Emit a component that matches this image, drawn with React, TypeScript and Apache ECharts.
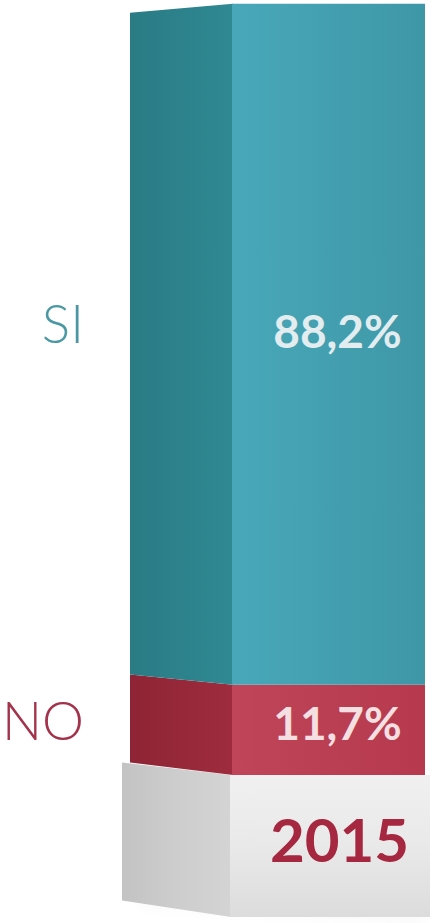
import React, { useEffect, useRef } from "react";
import * as echarts from "echarts";

const categories = ["2015"];
const seriesNames = ["SI", "NO"];
const siValues = [88.2];
const noValues = [11.7];

const W = 438;
const H = 923;

export default function App() {
  const ref = useRef<HTMLDivElement>(null);

  useEffect(() => {
    const chart = echarts.init(ref.current as HTMLDivElement, null, { renderer: "svg", width: W, height: H });
    const HORIZON = 325;
    const K = 0.028;
    const DEPTH = 102;
    const back = (y: number) => y + K * (HORIZON - y);
    const lg = (x2: number, y2: number, stops: string[]) =>
      new echarts.graphic.LinearGradient(
        0, 0, x2, y2,
        stops.map((c, i) => ({ offset: i / (stops.length - 1), color: c }))
      );

    const palettes: Record<string, any> = {
      SI: { side: ["#2a7b84", "#2f8993"], front: ["#48a8b9", "#3e97a6"], text: "#e3edf0", name: "#4a98a3" },
      NO: { side: ["#8e2435", "#9e2c3e"], front: ["#c04558", "#b6394d"], text: "#f4e0e3", name: "#a3324b" },
    };
    const labelDy: Record<string, number> = { SI: -14, NO: -7 };
    const nameDy: Record<string, number> = { SI: -8, NO: -3 };

    const makeBar = (name: string, lows: number[], values: number[]) => ({
      type: "custom",
      name,
      z: 3,
      data: categories.map((_c, i) => [i, lows[i], lows[i] + values[i], values[i]]),
      renderItem: (_params: any, api: any) => {
        const cat = api.value(0);
        const lo = api.coord([cat, api.value(1)]);
        const hi = api.coord([cat, api.value(2)]);
        const bw = api.size([1, 0])[0];
        const xL = lo[0] - bw / 2;
        const xB = xL - DEPTH;
        const p = palettes[name];
        const midY = (lo[1] + hi[1]) / 2 + labelDy[name];
        return {
          type: "group",
          children: [
            {
              type: "polygon",
              shape: { points: [[xB, back(hi[1])], [xL + 1, hi[1]], [xL + 1, lo[1]], [xB, back(lo[1])]] },
              style: { fill: lg(1, 0, p.side) },
            },
            {
              type: "rect",
              shape: { x: xL, y: hi[1], width: bw, height: lo[1] - hi[1] },
              style: { fill: lg(1, 0, p.front) },
            },
            {
              type: "text",
              x: lo[0] + 9,
              y: midY,
              style: {
                text: api.value(3).toFixed(1).replace(".", ",") + "%",
                fill: p.text,
                font: "bold 46px Lato",
                align: "center",
                verticalAlign: "middle",
              },
            },
            {
              type: "text",
              x: xB - 46,
              y: midY + nameDy[name],
              style: {
                text: name,
                fill: p.name,
                font: "300 53px Lato",
                align: "right",
                verticalAlign: "middle",
              },
            },
          ],
        };
      },
    });

    const baseSeries = {
      type: "custom",
      name: "base",
      z: 2,
      silent: true,
      data: categories.map((_c, i) => [i]),
      renderItem: (_params: any, api: any) => {
        const top = api.coord([api.value(0), 0]);
        const bw = api.size([1, 0])[0];
        const xL = top[0] - bw / 2 - 2;
        const xR = top[0] + bw / 2 + 5;
        const xB = xL - 108;
        const yT = top[1];
        const yBot = yT + 142;
        return {
          type: "group",
          children: [
            {
              type: "polygon",
              shape: { points: [[xB + 20, back(yBot) - 6], [xR - 6, yBot - 6], [xR - 6, yBot - 2], [xB + 20, back(yBot) - 2]] },
              style: { fill: "rgba(0,0,0,0.2)", shadowBlur: 14, shadowColor: "rgba(0,0,0,0.4)", shadowOffsetY: 4 },
            },
            {
              type: "polygon",
              shape: { points: [[xB, back(yT)], [xL + 1, yT], [xL + 1, yBot], [xB, back(yBot)]] },
              style: { fill: lg(1, 0, ["#c3c3c3", "#cdcdcd", "#d4d4d4"]) },
            },
            {
              type: "rect",
              shape: { x: xL, y: yT, width: xR - xL, height: yBot - yT },
              style: { fill: lg(0, 1, ["#f0f0f0", "#e9e9e9", "#dcdcdc"]) },
            },
          ],
        };
      },
    };

    chart.setOption({
      animation: false,
      backgroundColor: "#ffffff",
      grid: { left: 232, right: 13, top: 3, bottom: 148 },
      xAxis: {
        type: "category",
        data: categories,
        z: 10,
        axisLine: { show: false },
        axisTick: { show: false },
        axisLabel: {
          margin: 34,
          fontSize: 60,
          fontWeight: "bold",
          fontFamily: "Lato",
          color: "#a52840",
          padding: [0, 0, 0, 22],
        },
      },
      yAxis: { type: "value", min: 0, max: 100, show: false, splitLine: { show: false } },
      series: [
        baseSeries,
        makeBar(seriesNames[1], categories.map(() => 0), noValues),
        makeBar(seriesNames[0], noValues, siValues),
      ],
    } as any);

    return () => chart.dispose();
  }, []);

  return <div ref={ref} style={{ position: "fixed", left: 0, top: 0, width: W, height: H }} />;
}
